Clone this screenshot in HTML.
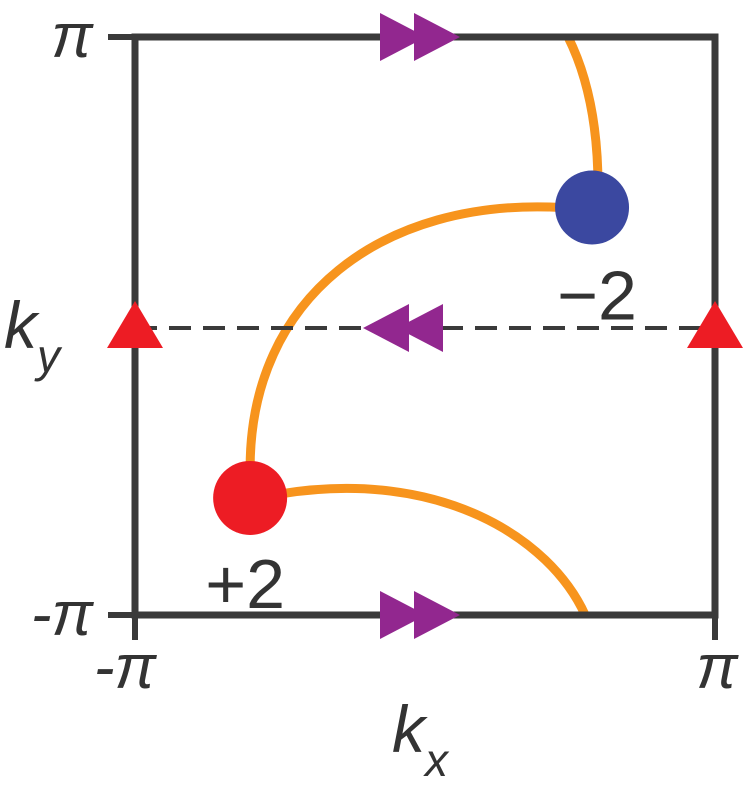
<!DOCTYPE html>
<html><head><meta charset="utf-8"><style>
html,body{margin:0;padding:0;background:#fff;}
svg{display:block;}
text{font-family:"Liberation Sans",sans-serif;fill:#333;}
</style></head><body>
<svg id="chart" width="746" height="785" viewBox="0 0 746 785">
<g id="curves"></g>
<g id="frame"></g>
<g id="marks"></g>
<g id="labels"></g>
</svg>
<script>
// data: Brillouin zone in units of pi
const kRange = [-1, 1];
const tickLabels = ["-π", "π"];
const chargeKx = [0.576, -0.603];
const chargeKy = [0.41, -0.595];
const chargeValues = ["−2", "+2"];
const chargeColors = ["#3b48a0", "#ed1c24"];
const triangleKx = [-1, 1];
const triangleKy = [0, 0];

const X0 = 135, X1 = 715, Y0 = 615, Y1 = 37;
const xs = k => X0 + (k - kRange[0]) / (kRange[1] - kRange[0]) * (X1 - X0);
const ys = k => Y0 - (k - kRange[0]) / (kRange[1] - kRange[0]) * (Y0 - Y1);
const NS = "http://www.w3.org/2000/svg";
function mk(tag, parent, attrs) {
  const e = document.createElementNS(NS, tag);
  for (const k in attrs) e.setAttribute(k, attrs[k]);
  document.getElementById(parent).appendChild(e);
  return e;
}
const ink = "#3a3a3a";
let e = mk("rect", "frame", {x: X0, y: Y1, width: X1 - X0, height: Y0 - Y1, fill: "none", stroke: ink, "stroke-width": 7});


e = mk("line", "frame", {x1: X0, x2: X1, y1: ys(0) + 2, y2: ys(0) + 2, stroke: ink, "stroke-width": 4, "stroke-dasharray": "22 12"});


[[108, ys(1), X0, ys(1)], [108, ys(-1), X0, ys(-1)], [xs(-1), Y0, xs(-1), 640], [xs(1), Y0, xs(1), 640]].forEach(t => {
  const l = mk("line", "frame", {x1: t[0], y1: t[1], x2: t[2], y2: t[3], stroke: ink, "stroke-width": 6});
  
  
});
const b = [xs(chargeKx[0]), ys(chargeKy[0])], r = [xs(chargeKx[1]), ys(chargeKy[1])];
const paths = [
  `M${b[0] - 24},${Y1} Q${b[0] + 6},${Y1 + 60} ${b[0] + 6},${b[1] - 20}`,
  `M${b[0] - 30},${b[1]} C${b[0] - 210},${b[1] - 10} ${r[0]},${b[1] + 90} ${r[0]},${r[1] - 30}`,
  `M${r[0] + 30},${r[1] - 4} C${r[0] + 190},${r[1] - 30} ${r[0] + 300},${r[1] + 40} ${r[0] + 335},${Y0}`
];
paths.forEach(d => {
  const p = mk("path", "curves", {d: d, fill: "none", stroke: "#f7941d", "stroke-width": 9});
  
  
});
function dbl(cx, cy, dir) {
  const w = 46, h = 24;
  [0, 1].forEach(i => {
    const x = cx + dir * (i * 34 - 17);
    const tip = x + dir * w / 2, base = x - dir * w / 2;
    const p = mk("polygon", "marks", {points: `${base},${cy - h} ${tip},${cy} ${base},${cy + h}`, fill: "#92278f"});
    
    
  });
}
dbl(420, Y1, 1); dbl(420, Y0, 1); dbl(403, ys(0) + 2, -1);
triangleKx.forEach((k, i) => {
  const x = xs(k), y = ys(triangleKy[i]) + 2;
  const p = mk("polygon", "marks", {points: `${x - 28},${y + 20} ${x},${y - 27} ${x + 28},${y + 20}`, fill: "#ed1c24"});
  
  
});
chargeKx.forEach((k, i) => {
  const c = mk("circle", "marks", {cx: xs(k), cy: ys(chargeKy[i]), r: 37, fill: chargeColors[i]});
  
  
  const t = mk("text", "labels", {x: xs(k) + (i === 0 ? 5 : -5), y: ys(chargeKy[i]) + (i === 0 ? 112 : 110), "font-size": 70, "text-anchor": "middle"});
  t.textContent = chargeValues[i];
  
  
});
function txt(x, y, s, size, name, style) {
  const t = mk("text", "labels", {x: x, y: y, "font-size": size, "text-anchor": "middle", "font-style": style || "normal"});
  t.textContent = s;
  
  
  return t;
}
txt(72, ys(1) + 20, tickLabels[1], 62, "y-tick-pi", "italic");
txt(62, ys(-1) + 20, tickLabels[0], 62, "y-tick-minus-pi", "italic");
txt(125, 688, tickLabels[0], 62, "x-tick-minus-pi", "italic");
txt(717, 688, tickLabels[1], 62, "x-tick-pi", "italic");
const ky = txt(32, 348, "k", 66, "y-axis-title", "italic");
const kys = mk("tspan", "labels", {dy: 24, "font-size": 46}); kys.textContent = "y"; ky.appendChild(kys);
const kx = txt(420, 752, "k", 66, "x-axis-title", "italic");
const kxs = mk("tspan", "labels", {dy: 24, "font-size": 46}); kxs.textContent = "x"; kx.appendChild(kxs);
</script>
</body></html>
